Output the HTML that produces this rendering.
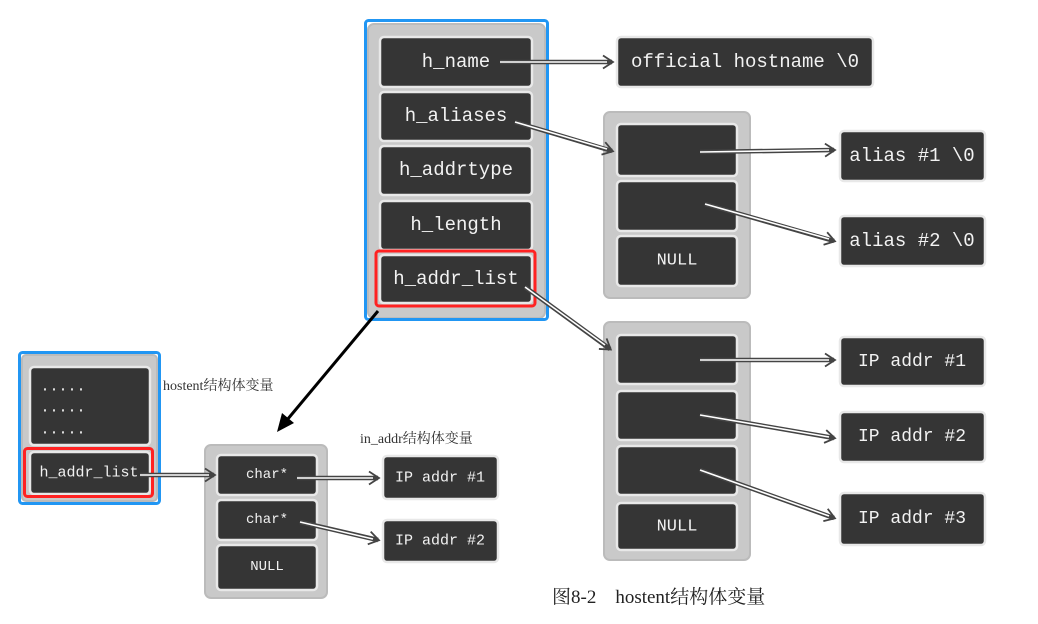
<!DOCTYPE html>
<html><head><meta charset="utf-8"><style>
body{margin:0;background:#fff;}
svg{display:block}
.c{fill:#c9c9c9;stroke:#bbb;stroke-width:2}
.b{fill:#353535;stroke:#e8e8e8;stroke-width:2.5}
text.t{font-family:"Liberation Mono",monospace;fill:#f2f2f2;text-anchor:middle;dominant-baseline:central}
.l1{stroke:#444;stroke-width:4.5;fill:none}
.l2{stroke:#fff;stroke-width:1.6;fill:none}
</style></head><body>
<svg width="1038" height="624" viewBox="0 0 1038 624" xmlns="http://www.w3.org/2000/svg">
<defs>
<marker id="ah" markerWidth="16" markerHeight="16" refX="12" refY="8" orient="auto" markerUnits="userSpaceOnUse">
<path d="M3,1.5 L13,8 L3,14.5" fill="none" stroke="#444" stroke-width="1.8"/>
</marker>
</defs>
<rect x="368" y="24" width="177" height="294" rx="6" class="c"/>
<g>
<rect x="380" y="37" width="152" height="50" rx="4" class="b"/><text class="t" x="456" y="62" font-size="19">h_name</text>
<rect x="380" y="92" width="152" height="49" rx="4" class="b"/><text class="t" x="456" y="116" font-size="19">h_aliases</text>
<rect x="380" y="146" width="152" height="49" rx="4" class="b"/><text class="t" x="456" y="170" font-size="19">h_addrtype</text>
<rect x="380" y="201" width="152" height="49" rx="4" class="b"/><text class="t" x="456" y="225" font-size="19">h_length</text>
<rect x="380" y="255" width="152" height="48" rx="4" class="b"/><text class="t" x="456" y="279" font-size="19">h_addr_list</text>
</g>
<rect x="365.5" y="20.5" width="182" height="299" rx="3" fill="none" stroke="#2196f3" stroke-width="3"/>
<rect x="376" y="251" width="159" height="55" rx="3" fill="none" stroke="#f22" stroke-width="3"/>

<rect x="617" y="37" width="256" height="50" rx="4" class="b"/><text class="t" x="745" y="62" font-size="19">official hostname \0</text>

<rect x="604" y="112" width="146" height="186" rx="6" class="c"/>
<rect x="617" y="124" width="120" height="52" rx="4" class="b"/>
<rect x="617" y="181" width="120" height="50" rx="4" class="b"/>
<rect x="617" y="236" width="120" height="50" rx="4" class="b"/><text class="t" x="677" y="261" font-size="17">NULL</text>
<rect x="840" y="131" width="145" height="50" rx="4" class="b"/><text class="t" x="912" y="156" font-size="19">alias #1 \0</text>
<rect x="840" y="216" width="145" height="50" rx="4" class="b"/><text class="t" x="912" y="241" font-size="19">alias #2 \0</text>

<rect x="604" y="322" width="146" height="238" rx="6" class="c"/>
<rect x="617" y="335" width="120" height="49" rx="4" class="b"/>
<rect x="617" y="391" width="120" height="49" rx="4" class="b"/>
<rect x="617" y="446" width="120" height="49" rx="4" class="b"/>
<rect x="617" y="503" width="120" height="47" rx="4" class="b"/><text class="t" x="677" y="527" font-size="17">NULL</text>
<rect x="840" y="337" width="145" height="49" rx="4" class="b"/><text class="t" x="912" y="362" font-size="18">IP addr #1</text>
<rect x="840" y="412" width="145" height="50" rx="4" class="b"/><text class="t" x="912" y="437" font-size="18">IP addr #2</text>
<rect x="840" y="493" width="145" height="52" rx="4" class="b"/><text class="t" x="912" y="519" font-size="18">IP addr #3</text>

<rect x="22" y="355" width="135" height="146" rx="4" class="c"/>
<rect x="30" y="367" width="120" height="78" rx="4" class="b"/>
<text class="t" x="63" y="387" font-size="15">.....</text>
<text class="t" x="63" y="408" font-size="15">.....</text>
<text class="t" x="63" y="430" font-size="15">.....</text>
<rect x="30" y="452" width="120" height="42" rx="4" class="b"/><text class="t" x="89" y="473" font-size="15">h_addr_list</text>
<rect x="19.5" y="352.5" width="140" height="151" rx="3" fill="none" stroke="#2196f3" stroke-width="3"/>
<rect x="24.5" y="448.5" width="128" height="48" rx="3" fill="none" stroke="#f22" stroke-width="3"/>
<text x="163" y="390" font-family="Liberation Serif,'Noto Serif CJK SC',serif" font-size="14" fill="#333">hostent结构体变量</text>

<rect x="205" y="445" width="122" height="153" rx="6" class="c"/>
<rect x="217" y="455" width="100" height="40" rx="4" class="b"/><text class="t" x="267" y="475" font-size="14">char*</text>
<rect x="217" y="500" width="100" height="40" rx="4" class="b"/><text class="t" x="267" y="520" font-size="14">char*</text>
<rect x="217" y="545" width="100" height="45" rx="4" class="b"/><text class="t" x="267" y="567" font-size="14">NULL</text>
<text x="360" y="443" font-family="Liberation Serif,'Noto Serif CJK SC',serif" font-size="14" fill="#333">in_addr结构体变量</text>
<rect x="383" y="456" width="115" height="43" rx="4" class="b"/><text class="t" x="440" y="478" font-size="15">IP addr #1</text>
<rect x="383" y="520" width="115" height="42" rx="4" class="b"/><text class="t" x="440" y="541" font-size="15">IP addr #2</text>

<g>
<path class="l1" d="M500,62 L612,62" marker-end="url(#ah)"/><path class="l2" d="M500,62 L607,62"/>
<path class="l1" d="M515,122 L612,151" marker-end="url(#ah)"/><path class="l2" d="M515,122 L607,149"/>
<path class="l1" d="M525,287 L610,349" marker-end="url(#ah)"/><path class="l2" d="M525,287 L605,345"/>
<path class="l1" d="M700,152 L834,150" marker-end="url(#ah)"/><path class="l2" d="M700,152 L829,150"/>
<path class="l1" d="M705,204 L834,241" marker-end="url(#ah)"/><path class="l2" d="M705,204 L829,239"/>
<path class="l1" d="M700,360 L834,360" marker-end="url(#ah)"/><path class="l2" d="M700,360 L829,360"/>
<path class="l1" d="M700,415 L834,438" marker-end="url(#ah)"/><path class="l2" d="M700,415 L829,437"/>
<path class="l1" d="M700,470 L834,518" marker-end="url(#ah)"/><path class="l2" d="M700,470 L829,516"/>
<path class="l1" d="M140,475 L214,475" marker-end="url(#ah)"/><path class="l2" d="M140,475 L209,475"/>
<path class="l1" d="M297,478 L378,478" marker-end="url(#ah)"/><path class="l2" d="M297,478 L373,478"/>
<path class="l1" d="M300,522 L378,540" marker-end="url(#ah)"/><path class="l2" d="M300,522 L373,539"/>
</g>
<line x1="378" y1="311" x2="287" y2="420" stroke="#000" stroke-width="3"/>
<path d="M277,432 L282,413 L294,423 Z" fill="#000"/>

<text x="552" y="603" font-family="Liberation Serif,'Noto Serif CJK SC',serif" font-size="19" fill="#222">图8-2&#160;&#160;&#160;&#160;hostent结构体变量</text>
</svg>
</body></html>
